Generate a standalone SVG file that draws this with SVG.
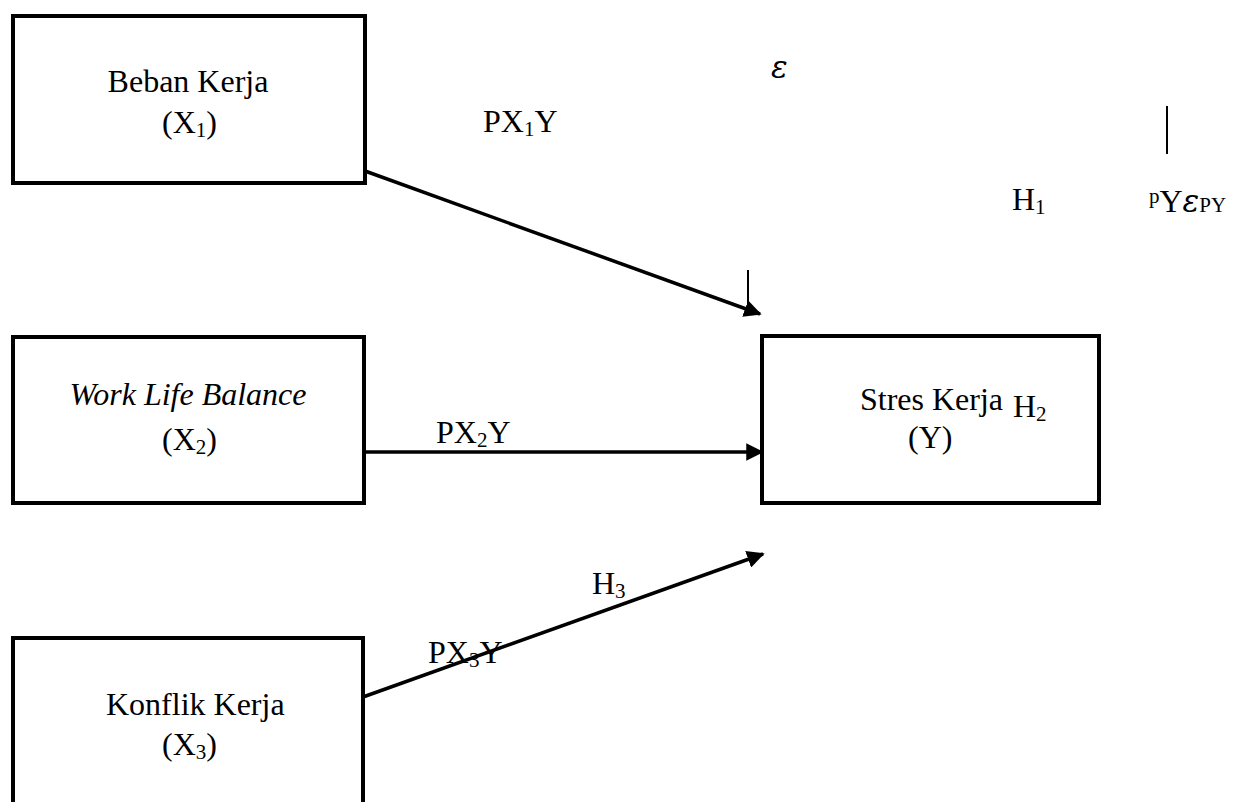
<svg xmlns="http://www.w3.org/2000/svg" width="1237" height="802" viewBox="0 0 1237 802">
<style>
.box{fill:#fff;stroke:#000;stroke-width:4}
.t{font-family:"Liberation Serif","Times New Roman",serif;font-size:32px;fill:#000}
.i{font-style:italic}
.s{font-size:21px}
.e{font-family:"DejaVu Serif","Liberation Serif",serif;font-style:italic;font-size:31px}
.c{stroke:#000;stroke-width:3.5;fill:none}
.thin{stroke:#000;stroke-width:2;fill:none}
</style>
<defs>
<marker id="ah" viewBox="0 0 10 10" refX="9" refY="5" markerWidth="5" markerHeight="5" orient="auto" markerUnits="strokeWidth">
<path d="M0,0 L10,5 L0,10 z" fill="#000"/>
</marker>
</defs>
<g id="node-x1">
<rect class="box" x="13" y="16" width="352" height="167"/>
<text class="t" x="188" y="92" text-anchor="middle">Beban Kerja</text>
<text class="t" x="162" y="133">(X<tspan class="s" dy="4">1</tspan><tspan dy="-4">)</tspan></text>
</g>
<g id="node-x2">
<rect class="box" x="13" y="337" width="351" height="166"/>
<text class="t i" x="188" y="405" text-anchor="middle">Work Life Balance</text>
<text class="t" x="162" y="450">(X<tspan class="s" dy="4">2</tspan><tspan dy="-4">)</tspan></text>
</g>
<g id="node-x3">
<rect class="box" x="13" y="638" width="350" height="200"/>
<text class="t" x="106" y="715">Konflik Kerja</text>
<text class="t" x="162" y="755">(X<tspan class="s" dy="4">3</tspan><tspan dy="-4">)</tspan></text>
</g>
<g id="node-y">
<rect class="box" x="762" y="336" width="337" height="167"/>
<text class="t" x="860" y="410">Stres Kerja</text>
<text class="t" x="1013" y="417">H<tspan class="s" dy="4">2</tspan></text>
<text class="t" x="908" y="448">(Y)</text>
</g>
<g id="connectors">
<line class="c" x1="365" y1="171" x2="760" y2="314" marker-end="url(#ah)"/>
<line class="c" x1="364" y1="452" x2="762" y2="452" marker-end="url(#ah)"/>
<line class="c" x1="363" y1="697" x2="763" y2="554" marker-end="url(#ah)"/>
<line class="thin" x1="748" y1="270" x2="748" y2="310"/>
<line class="thin" x1="1167" y1="106" x2="1167" y2="154"/>
</g>
<g id="labels">
<text class="t" x="483" y="132">PX<tspan class="s" dy="4">1</tspan><tspan dy="-4">Y</tspan></text>
<text class="t" x="436" y="443">PX<tspan class="s" dy="4">2</tspan><tspan dy="-4">Y</tspan></text>
<text class="t" x="428" y="663">PX<tspan class="s" dy="4">3</tspan><tspan dy="-4">Y</tspan></text>
<text class="t" x="592" y="594">H<tspan class="s" dy="4">3</tspan></text>
<text class="t" x="1012" y="210">H<tspan class="s" dy="4">1</tspan></text>
<text class="e" x="771" y="78">ε</text>
<text class="t" x="1149" y="212"><tspan class="s" dy="-9">p</tspan><tspan dy="9">Y</tspan><tspan class="e">ε</tspan><tspan class="s">PY</tspan></text>
</g>
</svg>
